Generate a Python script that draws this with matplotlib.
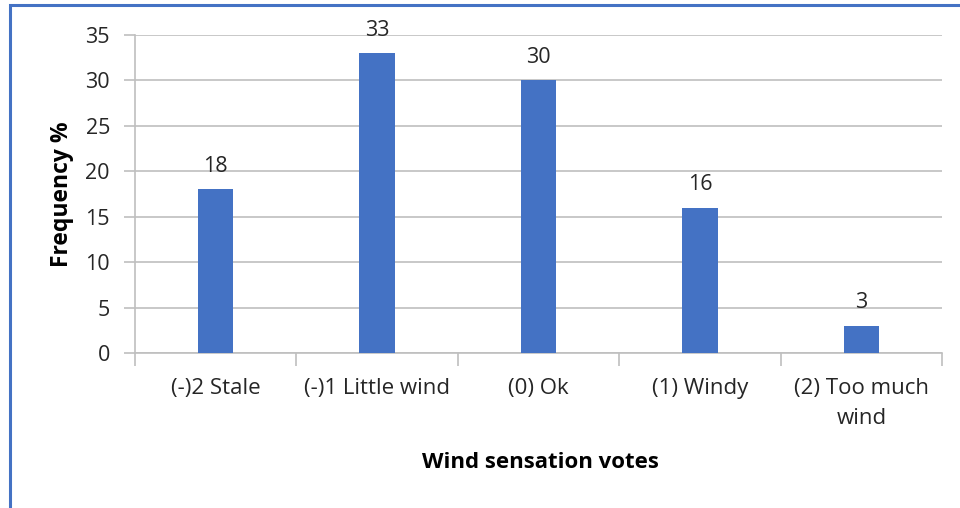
import matplotlib.pyplot as plt
from matplotlib.patches import Rectangle
import numpy as np

categories = ["(-)2 Stale", "(-)1 Little wind", "(0) Ok", "(1) Windy", "(2) Too much\nwind"]
frequency = [18, 33, 30, 16, 3]
y_ticks = [0, 5, 10, 15, 20, 25, 30, 35]

BAR_COLOR = "#4472C4"
GRID_COLOR = "#BFBFBF"
TEXT_COLOR = "#262626"
FONT = ["Open Sans", "DejaVu Sans"]

plt.rcParams["font.family"] = FONT

fig = plt.figure(figsize=(9.6, 5.08), dpi=100, facecolor="white")

# blue frame on the left and top edge
fig.patches.append(Rectangle((10 / 960, -0.01), 1.2, 1 - 5 / 508 + 0.01, transform=fig.transFigure,
                             fill=False, edgecolor=BAR_COLOR, linewidth=2.2))

ax = fig.add_axes([135 / 960, 1 - 353 / 508, (942 - 135) / 960, (353 - 35) / 508])

x = np.arange(len(categories))
bars = ax.bar(x, frequency, width=0.22, color=BAR_COLOR, zorder=3)

for xi, v in zip(x, frequency):
    ax.annotate(str(v), (xi, v), xytext=(0, 9), textcoords="offset points",
                ha="center", va="bottom", fontsize=15.5, color=TEXT_COLOR)

ax.set_xlim(-0.5, len(categories) - 0.5)
ax.set_ylim(0, 35)
ax.set_yticks(y_ticks)
ax.grid(True, axis="y", color=GRID_COLOR, linewidth=1.2, zorder=0)

# category labels centred, tick marks at category boundaries
ax.set_xticks(x)
ax.set_xticklabels(categories, fontsize=16, color=TEXT_COLOR, linespacing=1.55)
ax.tick_params(axis="x", which="major", length=0, pad=18)
ax.set_xticks(np.arange(len(categories) + 1) - 0.5, minor=True)
ax.tick_params(axis="x", which="minor", length=9, color=GRID_COLOR, width=1.2)
ax.tick_params(axis="y", length=8, color=GRID_COLOR, width=1.2, labelsize=15.5,
               labelcolor=TEXT_COLOR, pad=10)

for side in ["top", "right"]:
    ax.spines[side].set_visible(False)
for side in ["left", "bottom"]:
    ax.spines[side].set_color(GRID_COLOR)
    ax.spines[side].set_linewidth(1.2)

fig.text(62 / 960, 1 - 194 / 508, "Frequency %", rotation=90, ha="center", va="center",
         fontsize=16.5, fontweight="bold", color="black")
fig.text(540 / 960, 1 - 462 / 508, "Wind sensation votes", ha="center", va="center",
         fontsize=16, fontweight="bold", color="black")

fig.savefig("out.png", dpi=100, facecolor="white")
